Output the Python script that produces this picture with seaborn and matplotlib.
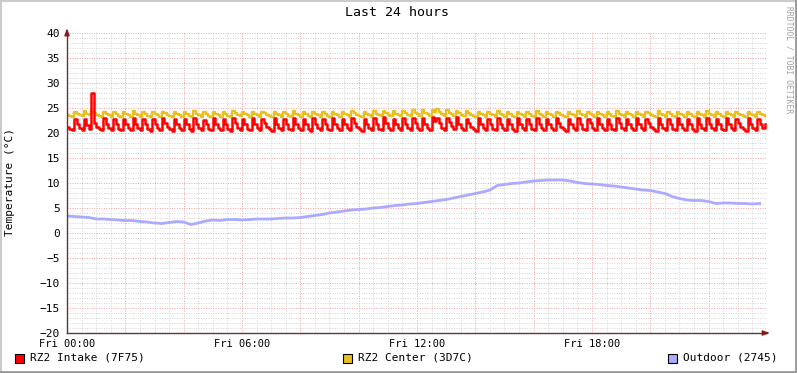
import numpy as np
import matplotlib
matplotlib.use("Agg")
import matplotlib.pyplot as plt
from matplotlib.patches import Rectangle
from matplotlib.lines import Line2D
import seaborn as sns

# --- data (5 minute samples for the two indoor sensors, 15 minute for outdoor) ---
intake = [
    21.2, 20.8, 20.6, 22.8, 21.8, 21.0, 20.7, 22.9, 21.6, 20.8, 28.0, 22.0,
    21.3, 20.9, 20.6, 23.0, 21.9, 21.0, 20.6, 22.9, 21.8, 20.9, 20.6, 22.8,
    21.9, 21.0, 20.7, 23.1, 21.9, 21.0, 20.6, 22.9, 21.8, 20.9, 20.5, 22.8,
    21.9, 21.0, 20.6, 23.0, 22.1, 21.3, 20.8, 20.5, 22.9, 21.9, 21.0, 20.6,
    22.8, 21.8, 20.9, 20.5, 23.0, 21.9, 21.0, 20.6, 22.7, 21.8, 20.9, 20.6,
    23.0, 21.9, 21.0, 20.6, 22.8, 21.8, 20.9, 20.5, 23.1, 22.0, 21.0, 20.7,
    22.9, 21.8, 20.9, 20.6, 23.0, 21.9, 21.0, 20.6, 22.8, 22.0, 21.2, 20.8,
    20.5, 23.0, 21.9, 21.0, 20.6, 22.9, 21.8, 20.9, 20.6, 23.1, 21.9, 21.0,
    20.6, 22.8, 21.8, 20.9, 20.5, 23.0, 21.9, 21.0, 20.6, 22.9, 21.8, 20.9,
    20.6, 23.0, 21.9, 21.0, 20.6, 22.8, 21.9, 21.0, 20.6, 23.1, 22.1, 21.3,
    20.8, 20.5, 22.9, 21.9, 21.0, 20.6, 23.0, 21.8, 20.9, 20.6, 23.2, 22.0,
    21.0, 20.6, 22.9, 21.8, 21.0, 20.6, 23.0, 21.9, 21.0, 20.7, 23.1, 22.0,
    21.0, 20.6, 23.0, 21.9, 21.0, 20.7, 23.2, 22.4, 23.1, 22.0, 21.0, 20.6,
    23.0, 22.2, 21.5, 20.9, 23.2, 21.9, 21.0, 20.6, 22.9, 22.0, 21.2, 20.8,
    20.5, 23.0, 21.9, 21.0, 20.6, 22.9, 21.8, 20.9, 20.6, 23.1, 21.9, 21.0,
    20.6, 22.8, 21.8, 20.9, 20.5, 23.0, 21.9, 21.0, 20.6, 22.9, 21.8, 20.9,
    20.6, 23.1, 21.9, 21.0, 20.6, 22.8, 21.9, 21.0, 20.6, 23.0, 22.1, 21.3,
    20.8, 20.5, 22.9, 21.9, 21.0, 20.6, 23.0, 21.8, 20.9, 20.6, 22.8, 22.0,
    21.0, 20.6, 23.0, 21.9, 21.0, 20.6, 22.9, 21.8, 20.9, 20.6, 23.1, 22.0,
    21.0, 20.6, 22.8, 21.9, 21.0, 20.6, 23.0, 21.9, 21.0, 20.6, 22.9, 22.1,
    21.3, 20.8, 20.5, 23.1, 21.9, 21.0, 20.6, 22.9, 21.8, 20.9, 20.6, 23.0,
    21.9, 21.0, 20.6, 22.8, 21.8, 20.9, 20.5, 23.0, 21.9, 21.0, 20.6, 23.1,
    21.9, 21.0, 20.6, 22.9, 21.8, 20.9, 20.6, 23.0, 21.9, 21.0, 20.6, 22.8,
    22.0, 21.2, 20.8, 20.5, 23.0, 21.9, 21.0, 20.6, 22.9, 21.8, 21.0, 21.8,
]

center = [
    23.6, 23.4, 23.3, 24.3, 23.9, 23.6, 23.4, 24.4, 23.9, 23.6, 24.4, 24.0,
    23.6, 23.4, 23.3, 24.3, 23.9, 23.6, 23.3, 24.2, 23.9, 23.5, 23.3, 24.3,
    23.9, 23.6, 23.3, 24.4, 23.9, 23.6, 23.3, 24.2, 23.8, 23.5, 23.3, 24.3,
    23.9, 23.6, 23.3, 24.3, 24.0, 23.7, 23.5, 23.3, 24.3, 23.9, 23.6, 23.3,
    24.2, 23.9, 23.5, 23.3, 24.4, 23.9, 23.6, 23.3, 24.2, 23.8, 23.5, 23.3,
    24.3, 23.9, 23.6, 23.3, 24.2, 23.9, 23.5, 23.3, 24.4, 24.0, 23.6, 23.4,
    24.3, 23.9, 23.6, 23.3, 24.3, 23.9, 23.6, 23.3, 24.2, 24.0, 23.7, 23.5,
    23.3, 24.3, 23.9, 23.6, 23.3, 24.2, 23.9, 23.5, 23.3, 24.4, 23.9, 23.6,
    23.3, 24.2, 23.9, 23.5, 23.3, 24.3, 23.9, 23.6, 23.3, 24.3, 23.9, 23.5,
    23.3, 24.3, 23.9, 23.6, 23.3, 24.2, 23.9, 23.6, 23.3, 24.4, 24.0, 23.7,
    23.5, 23.3, 24.3, 23.9, 23.6, 23.3, 24.4, 23.9, 23.6, 23.4, 24.5, 24.0,
    23.7, 23.4, 24.4, 23.9, 23.6, 23.4, 24.5, 24.0, 23.7, 23.4, 24.6, 24.1,
    23.8, 23.5, 24.6, 24.1, 23.8, 23.5, 24.7, 24.3, 24.8, 24.2, 23.8, 23.5,
    24.6, 24.1, 23.8, 23.5, 24.5, 24.0, 23.7, 23.4, 24.4, 24.0, 23.7, 23.5,
    23.3, 24.3, 23.9, 23.6, 23.3, 24.3, 23.9, 23.6, 23.3, 24.4, 23.9, 23.6,
    23.3, 24.2, 23.9, 23.5, 23.3, 24.3, 23.9, 23.6, 23.3, 24.3, 23.9, 23.5,
    23.3, 24.4, 23.9, 23.6, 23.3, 24.2, 23.9, 23.6, 23.3, 24.3, 24.0, 23.7,
    23.5, 23.3, 24.3, 23.9, 23.6, 23.3, 24.4, 23.9, 23.6, 23.3, 24.2, 23.9,
    23.6, 23.3, 24.3, 23.9, 23.6, 23.3, 24.2, 23.9, 23.5, 23.3, 24.4, 23.9,
    23.6, 23.3, 24.2, 23.9, 23.6, 23.3, 24.3, 23.9, 23.6, 23.3, 24.3, 24.0,
    23.7, 23.5, 23.3, 24.4, 23.9, 23.6, 23.3, 24.2, 23.9, 23.5, 23.3, 24.3,
    23.9, 23.6, 23.3, 24.2, 23.9, 23.5, 23.3, 24.3, 23.9, 23.6, 23.3, 24.4,
    23.9, 23.6, 23.3, 24.3, 23.9, 23.5, 23.3, 24.3, 23.9, 23.6, 23.3, 24.2,
    23.9, 23.6, 23.4, 23.3, 24.3, 23.9, 23.6, 23.3, 24.2, 23.9, 23.6, 23.5,
]

outdoor = [
    3.4, 3.3, 3.2, 3.1, 2.8, 2.8, 2.7, 2.6,
    2.5, 2.5, 2.3, 2.2, 2.0, 1.9, 2.1, 2.3,
    2.2, 1.7, 2.0, 2.4, 2.6, 2.5, 2.7, 2.7,
    2.6, 2.7, 2.8, 2.8, 2.8, 2.9, 3.0, 3.0,
    3.1, 3.3, 3.5, 3.7, 4.0, 4.2, 4.4, 4.6,
    4.7, 4.8, 5.0, 5.1, 5.3, 5.5, 5.6, 5.8,
    5.9, 6.1, 6.3, 6.5, 6.7, 7.0, 7.3, 7.6,
    7.9, 8.2, 8.6, 9.5, 9.7, 9.9, 10.0, 10.2,
    10.4, 10.5, 10.6, 10.6, 10.6, 10.4, 10.1, 9.9,
    9.8, 9.7, 9.5, 9.4, 9.2, 9.0, 8.8, 8.6,
    8.5, 8.2, 7.9, 7.3, 6.9, 6.6, 6.5, 6.5,
    6.3, 5.9, 6.0, 6.0, 5.9, 5.9, 5.8, 5.9,
]

series_names = ['RZ2 Intake (7F75)', 'RZ2 Center (3D7C)', 'Outdoor (2745)']
series_colors = ['#ff0000', '#e8c020', '#aaaaff']
x_labels = ['Fri 00:00', 'Fri 06:00', 'Fri 12:00', 'Fri 18:00']

t5 = np.arange(len(intake)) / 12.0
t15 = np.arange(len(outdoor)) / 4.0

mono = 'DejaVu Sans Mono'
plt.rcParams['font.family'] = mono

fig = plt.figure(figsize=(7.97, 3.73), dpi=100, facecolor='white')
ax = fig.add_axes([67/797, 40/373, 700/797, 300/373])
ax.set_facecolor('white')

sns.lineplot(x=t15, y=outdoor, ax=ax, color=series_colors[2], linewidth=2.0, estimator=None)
sns.lineplot(x=t5, y=center, ax=ax, color=series_colors[1], linewidth=1.7,
             estimator=None, drawstyle='steps-post')
sns.lineplot(x=t5, y=intake, ax=ax, color=series_colors[0], linewidth=1.8,
             estimator=None, drawstyle='steps-post')

ax.set_xlim(0, 24)
ax.set_ylim(-20, 40)

ax.set_xticks(np.arange(0, 24.01, 2))
ax.set_xticklabels([x_labels[i // 3] if (i % 3 == 0 and i < 12) else '' for i in range(13)])
ax.set_xticks(np.arange(0, 24.01, 0.5), minor=True)
ax.set_yticks(np.arange(-20, 41, 5))
ax.set_yticks(np.arange(-20, 41, 1), minor=True)

ax.grid(which='minor', color='#d4d4d4', linestyle=(0, (1, 1.5)), linewidth=0.7)
ax.grid(which='major', color='#f0a0a0', linestyle=(0, (1, 1.5)), linewidth=0.7)
ax.set_axisbelow(True)

ax.tick_params(which='both', length=0)
ax.tick_params(axis='y', labelsize=8, pad=5, colors='black')
ax.tick_params(axis='x', labelsize=7.5, pad=4.5, colors='black')

for s in ['top', 'right']:
    ax.spines[s].set_visible(False)
for s in ['left', 'bottom']:
    ax.spines[s].set_color('#5a3a3a')
    ax.spines[s].set_linewidth(1.0)

# axis arrows
ax.annotate('', xy=(0, 1.025), xytext=(0, 0.99), xycoords='axes fraction',
            arrowprops=dict(arrowstyle='-|>,head_length=0.4,head_width=0.15',
                            color='#8b1a1a', lw=1.0))
ax.annotate('', xy=(1.008, 0), xytext=(0.99, 0), xycoords='axes fraction',
            arrowprops=dict(arrowstyle='-|>,head_length=0.4,head_width=0.15',
                            color='#8b1a1a', lw=1.0))

fig.text(397/797, 1 - 13/373, 'Last 24 hours', ha='center', va='center', fontsize=9.5)
fig.text(10/797, 1 - 182/373, 'Temperature (°C)', ha='center', va='center',
         rotation=90, fontsize=8)
fig.text(789/797, 1 - 60/373, 'RRDTOOL / TOBI OETIKER', ha='center', va='center',
         rotation=270, fontsize=5.8, color='#a0a0a0')

# legend
legend_x = [15, 343, 668]
for x0, name, col in zip(legend_x, series_names, series_colors):
    fig.patches.append(Rectangle((x0/797, 1 - 363/373), 9/797, 9/373,
                                 transform=fig.transFigure, facecolor=col,
                                 edgecolor='black', linewidth=0.8))
    fig.text((x0 + 15)/797, 1 - 358/373, name, ha='left', va='center', fontsize=8)

# frame shading
fig.lines.append(Line2D([0, 1], [1 - 1/373, 1 - 1/373], transform=fig.transFigure,
                        color='#cbcbcb', linewidth=1.5))
fig.lines.append(Line2D([1/797, 1/797], [0, 1], transform=fig.transFigure,
                        color='#cbcbcb', linewidth=1.5))
fig.lines.append(Line2D([0, 1], [1/373, 1/373], transform=fig.transFigure,
                        color='#999999', linewidth=2.0))
fig.lines.append(Line2D([1 - 1/797, 1 - 1/797], [0, 1], transform=fig.transFigure,
                        color='#999999', linewidth=2.0))

fig.savefig('out.png', dpi=100, facecolor='white')
